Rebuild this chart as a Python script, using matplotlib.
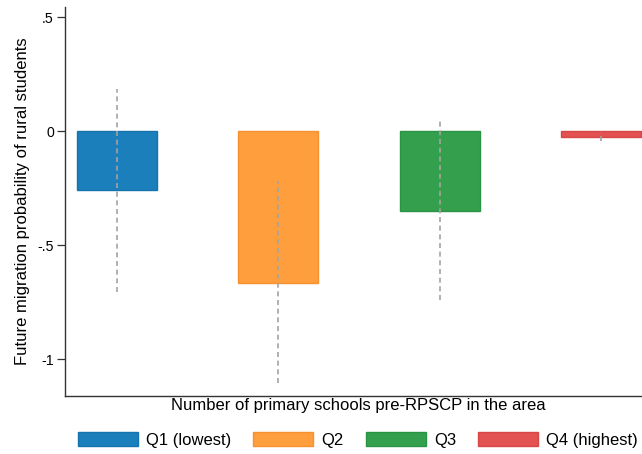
import numpy as np
import matplotlib
matplotlib.use('Agg')
import matplotlib.pyplot as plt

plt.rcParams['font.family'] = ['Liberation Sans', 'DejaVu Sans']

# Quartile groups and estimated effects with 95% CIs
groups = ['Q1 (lowest)', 'Q2', 'Q3', 'Q4 (highest)']
coef = [-0.259, -0.667, -0.351, -0.026]
ci_low = [-0.706, -1.105, -0.741, -0.045]
ci_high = [0.184, -0.219, 0.048, -0.005]
colors = ['#1a7fba', '#fe9e3c', '#34a04d', '#e25252']
edges = ['#1574ae', '#f79030', '#2a9444', '#d94646']

yticks = [0.5, 0, -0.5, -1]
yticklabels = ['.5', '0', '-.5', '-1']

fig = plt.figure(figsize=(6.42, 4.54), dpi=100)
ax = fig.add_axes([65 / 642, 58 / 454, 1 - 65 / 642, (396 - 7) / 454])

x = np.arange(len(groups))
bars = ax.bar(x, coef, width=0.495, color=colors, edgecolor=edges,
              linewidth=1, label=groups, zorder=2)

# confidence intervals as dashed grey lines
ax.vlines(x, ci_low, ci_high, colors='#a3a3a3', linestyles=(0, (3, 2.2)),
          linewidth=1.2, zorder=3)

ax.set_xlim(-0.319, 3.251)
ax.set_ylim(-1.162, 0.544)
ax.set_yticks(yticks)
ax.set_yticklabels(yticklabels, fontsize=10.2)
ax.set_xticks([])
ax.tick_params(axis='y', length=6, width=0.9, pad=2, color='#333333')

for s in ['top', 'right']:
    ax.spines[s].set_visible(False)
for s in ['left', 'bottom']:
    ax.spines[s].set_color('#333333')
    ax.spines[s].set_linewidth(1.0)

ax.set_ylabel('Future migration probability of rural students', fontsize=12,
              labelpad=5)
ax.set_xlabel('Number of primary schools pre-RPSCP in the area', fontsize=12)
ax.xaxis.set_label_coords((358 - 65) / (642 - 65), -2 / 389)

fig.legend(handles=list(bars), labels=groups, loc='center',
           bbox_to_anchor=(358 / 642, 1 - 440 / 454), ncol=4, frameon=False,
           fontsize=12, handlelength=3.6, handleheight=0.95,
           handletextpad=0.5, columnspacing=1.3, borderaxespad=0)

fig.savefig('out.png', dpi=100)
